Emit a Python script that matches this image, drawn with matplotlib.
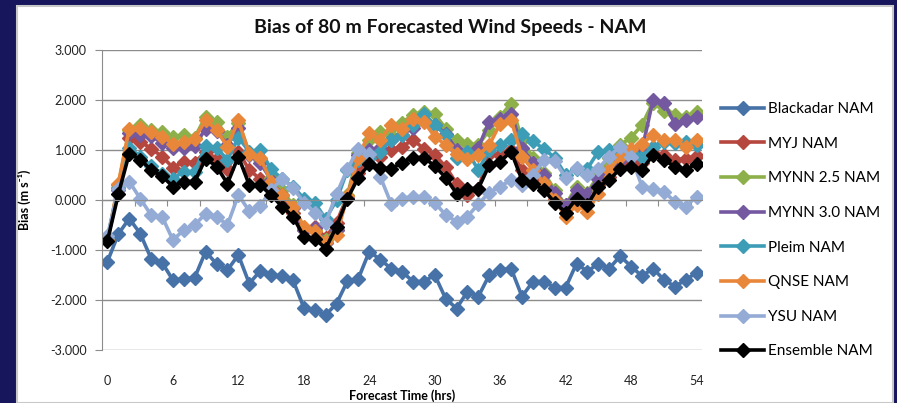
import numpy as np
import matplotlib.pyplot as plt
from matplotlib.patches import Rectangle

plt.rcParams['font.family'] = ['Lato', 'DejaVu Sans']

# ----- data (bias in m/s, forecast hours 0..54) -----
hours = np.arange(0, 55)

blackadar = [-1.23, -0.68, -0.37, -0.67, -1.17, -1.25, -1.6, -1.58, -1.55, -1.03,
             -1.28, -1.4, -1.1, -1.67, -1.42, -1.5, -1.52, -1.6, -2.15, -2.2,
             -2.3, -2.07, -1.62, -1.57, -1.03, -1.19, -1.37, -1.43, -1.63, -1.63,
             -1.5, -1.97, -2.17, -1.83, -1.93, -1.5, -1.4, -1.37, -1.93, -1.63,
             -1.63, -1.75, -1.75, -1.27, -1.43, -1.27, -1.37, -1.12, -1.33, -1.52,
             -1.37, -1.59, -1.73, -1.6, -1.45]
myj = [-0.8, 0.25, 1.25, 1.17, 1.03, 0.87, 0.65, 0.77, 0.75, 0.97,
       0.83, 0.63, 0.97, 0.6, 0.42, 0.22, 0.0, -0.25, -0.6, -0.53,
       -0.75, -0.45, 0.08, 0.55, 0.87, 0.87, 1.0, 1.07, 1.2, 1.03,
       0.9, 0.67, 0.33, 0.1, 0.22, 0.93, 0.9, 1.0, 0.6, 0.45,
       0.3, 0.02, -0.15, 0.1, 0.0, 0.3, 0.47, 0.7, 0.8, 0.75,
       0.95, 0.9, 0.8, 0.83, 0.88]
mynn25 = [-0.8, 0.3, 1.4, 1.5, 1.4, 1.37, 1.27, 1.3, 1.25, 1.67,
          1.57, 1.27, 1.55, 0.95, 0.8, 0.45, 0.2, -0.1, -0.55, -0.6,
          -0.8, -0.6, 0.1, 0.95, 1.2, 1.37, 1.3, 1.55, 1.7, 1.77,
          1.72, 1.43, 1.2, 1.13, 1.1, 1.4, 1.67, 1.93, 1.2, 0.85,
          0.55, 0.2, -0.1, 0.27, 0.15, 0.5, 0.85, 1.1, 1.25, 1.5,
          1.95, 1.78, 1.7, 1.67, 1.77]
mynn30 = [-0.8, 0.2, 1.35, 1.3, 1.28, 1.15, 1.05, 1.05, 1.08, 1.43,
          1.38, 1.1, 1.45, 0.9, 0.75, 0.4, 0.1, -0.15, -0.6, -0.55,
          -0.85, -0.6, 0.05, 0.9, 1.0, 1.05, 1.2, 1.3, 1.45, 1.6,
          1.5, 1.33, 1.0, 0.93, 1.05, 1.57, 1.62, 1.73, 1.05, 0.75,
          0.5, 0.15, -0.1, 0.2, 0.13, 0.43, 0.6, 0.8, 0.9, 1.0,
          2.0, 1.95, 1.53, 1.6, 1.67]
pleim = [-0.8, 0.25, 1.05, 0.87, 0.68, 0.53, 0.43, 0.57, 0.57, 1.08,
         1.05, 0.8, 1.25, 0.97, 1.0, 0.62, 0.42, 0.27, 0.03, -0.05,
         -0.38, 0.0, 0.6, 0.8, 0.85, 0.97, 1.2, 1.3, 1.5, 1.73,
         1.5, 1.3, 0.85, 0.97, 0.6, 1.0, 1.1, 1.2, 1.33, 1.18,
         1.02, 0.85, 0.5, 0.62, 0.63, 0.97, 1.0, 0.97, 0.97, 0.87,
         1.07, 1.17, 1.15, 1.17, 1.1]
qnse = [-0.8, 0.33, 1.43, 1.45, 1.37, 1.27, 1.13, 1.17, 1.23, 1.6,
        1.4, 1.07, 1.6, 0.92, 0.85, 0.37, 0.1, -0.13, -0.53, -0.62,
        -0.83, -0.7, 0.08, 0.85, 1.35, 1.2, 1.5, 1.43, 1.63, 1.57,
        1.27, 1.1, 0.93, 0.83, 0.9, 1.1, 1.53, 1.6, 0.87, 0.6,
        0.35, 0.0, -0.33, -0.1, -0.23, 0.13, 0.6, 0.87, 1.03, 1.13,
        1.3, 1.2, 1.2, 1.07, 1.2]
ysu = [-0.72, 0.22, 0.37, 0.03, -0.3, -0.33, -0.8, -0.6, -0.5, -0.27,
       -0.33, -0.5, 0.1, -0.22, -0.12, 0.2, 0.42, 0.25, -0.05, -0.25,
       -0.45, 0.12, 0.62, 1.03, 0.93, 0.47, -0.07, 0.03, 0.07, 0.07,
       -0.05, -0.3, -0.43, -0.33, -0.08, 0.15, 0.27, 0.4, 0.3, 0.5,
       0.8, 0.78, 0.45, 0.65, 0.5, 0.63, 0.87, 1.07, 0.87, 0.27,
       0.23, 0.17, -0.03, -0.13, 0.07]
ensemble = [-0.82, 0.12, 0.93, 0.81, 0.6, 0.48, 0.27, 0.37, 0.37, 0.83,
            0.67, 0.33, 0.87, 0.3, 0.3, 0.1, -0.13, -0.33, -0.73, -0.77,
            -0.97, -0.53, 0.03, 0.45, 0.72, 0.65, 0.62, 0.75, 0.85, 0.85,
            0.68, 0.45, 0.13, 0.23, 0.23, 0.7, 0.77, 0.97, 0.4, 0.33,
            0.2, -0.05, -0.25, 0.03, -0.1, 0.27, 0.4, 0.63, 0.67, 0.6,
            0.9, 0.8, 0.67, 0.6, 0.73]

series = [
    ("Blackadar NAM", blackadar, "#4672A8"),
    ("MYJ NAM", myj, "#B5473F"),
    ("MYNN 2.5 NAM", mynn25, "#8DB04A"),
    ("MYNN 3.0 NAM", mynn30, "#7458A0"),
    ("Pleim NAM", pleim, "#3E9DB6"),
    ("QNSE NAM", qnse, "#E8873A"),
    ("YSU NAM", ysu, "#93ABD5"),
    ("Ensemble NAM", ensemble, "#000000"),
]

# ----- figure -----
fig = plt.figure(figsize=(8.97, 4.03), dpi=100)
fig.patch.set_facecolor("#17155C")
fig.patches.append(Rectangle((17 / 897, 0), 876 / 897, 397 / 403, transform=fig.transFigure,
                             facecolor="white", edgecolor="#C8C8C8", linewidth=1.5, zorder=-10))

ax = fig.add_axes([102 / 897, 1 - 350 / 403, 600 / 897, 300 / 403])
ax.set_zorder(2)
ax.set_facecolor("white")

for name, vals, col in series:
    ax.plot(hours, vals, color=col, lw=2.6, marker="D", ms=7, mec=col, mfc=col, label=name)

ax.set_xlim(-0.5, 54.5)
ax.set_ylim(-3, 3)
ax.set_yticks(np.arange(-3, 4, 1))
ax.set_yticklabels([f"{v:.3f}" for v in np.arange(-3, 4, 1)])
ax.yaxis.grid(True, color="#8C8C8C", lw=1)
ax.set_axisbelow(True)
for s in ["top", "right"]:
    ax.spines[s].set_visible(False)
ax.spines["left"].set_color("#8C8C8C")
ax.tick_params(axis="y", length=5, color="#8C8C8C", labelsize=9, labelcolor="#222222", pad=6)

# horizontal axis line crosses at y = 0, tick marks every 3 categories
ax.spines["bottom"].set_position(("data", 0))
ax.spines["bottom"].set_color("#8C8C8C")
ax.set_xticks(np.arange(-0.5, 55, 3))
ax.tick_params(axis="x", length=4, color="#8C8C8C", labelbottom=False)

# category labels kept low, below the plot
cat_axis = ax.secondary_xaxis("bottom")
cat_axis.set_xticks(np.arange(0, 55, 6))
cat_axis.tick_params(length=0, labelsize=9, labelcolor="#222222", pad=18)
cat_axis.spines["bottom"].set_visible(False)
cat_axis.set_xlabel("Forecast Time (hrs)", fontsize=9, fontweight="bold", labelpad=2)

ax.set_ylabel("Bias (m s\u207b\u00b9)", fontsize=9, fontweight="bold", labelpad=14)
fig.text(450 / 897, 1 - 28 / 403, "Bias of 80 m Forecasted Wind Speeds - NAM",
         ha="center", va="center", fontsize=14, fontweight="bold", color="#111111")

fig.legend(loc="upper left", bbox_to_anchor=(715 / 897, 1 - 96 / 403), frameon=False,
           fontsize=11, handlelength=2.8, labelspacing=1.35, handletextpad=0.3,
           borderaxespad=0)

fig.savefig("out.png", dpi=100, facecolor=fig.get_facecolor())
